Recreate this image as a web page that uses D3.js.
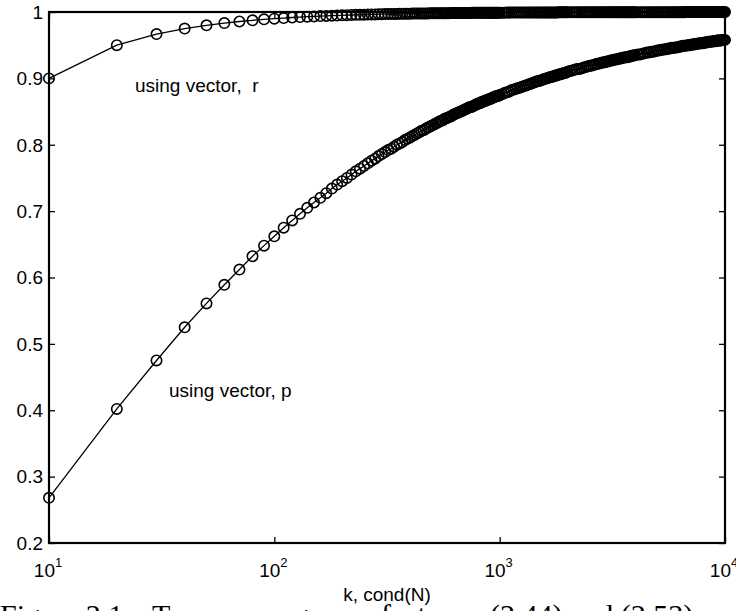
<!DOCTYPE html>
<html>
<head>
<meta charset="utf-8">
<script src="https://cdn.jsdelivr.net/npm/d3@7"></script>
<style>
  html, body { margin: 0; padding: 0; background: #fff; overflow: hidden; }
  svg { display: block; }
  .lbl { font-family: "Liberation Sans", Arial, Helvetica, sans-serif; fill: #000; }
  .cap { font-family: "Liberation Serif", "Times New Roman", serif; fill: #000; }
</style>
</head>
<body>
<svg id="chart" width="736" height="611"></svg>
<script>
// condition number k (sampled densely where markers merge into a band)
const kValues = [
  10,20,30,40,50,60,70,80,90,100,
  110,120,130,140,150,160,170,180,190,200,
  210,220,230,240,250,260,270,280,290,300,
  310,320,330,340,350,360,370,380,390,400,
  410,420,430,440,450,460,470,480,490,500,
  510,520,530,540,550,560,570,580,590,600,
  610,620,630,640,650,660,670,680,690,700,
  710,720,730,740,750,760,770,780,790,800,
  810,820,830,840,850,860,870,880,890,900,
  910,920,930,940,950,960,970,980,990,1000,
  1025,1050,1075,1100,1125,1150,1175,1200,1225,1250,
  1275,1300,1325,1350,1375,1400,1425,1450,1475,1500,
  1525,1550,1575,1600,1625,1650,1675,1700,1725,1750,
  1775,1800,1825,1850,1875,1900,1925,1950,1975,2000,
  2050,2100,2150,2200,2250,2300,2350,2400,2450,2500,
  2550,2600,2650,2700,2750,2800,2850,2900,2950,3000,
  3050,3100,3150,3200,3250,3300,3350,3400,3450,3500,
  3550,3600,3650,3700,3750,3800,3850,3900,3950,4000,
  4100,4200,4300,4400,4500,4600,4700,4800,4900,5000,
  5100,5200,5300,5400,5500,5600,5700,5800,5900,6000,
  6100,6200,6300,6400,6500,6600,6700,6800,6900,7000,
  7100,7200,7300,7400,7500,7600,7700,7800,7900,8000,
  8100,8200,8300,8400,8500,8600,8700,8800,8900,9000,
  9100,9200,9300,9400,9500,9600,9700,9800,9900,10000
];

// factor obtained with vector p
const pValues = [
  0.268,0.402,0.475,0.525,0.561,0.589,0.612,0.632,0.648,0.662,
  0.675,0.686,0.696,0.705,0.713,0.720,0.727,0.734,0.740,0.745,
  0.750,0.755,0.760,0.764,0.768,0.772,0.776,0.779,0.783,0.786,
  0.789,0.792,0.794,0.797,0.800,0.802,0.804,0.807,0.809,0.811,
  0.813,0.815,0.817,0.819,0.821,0.822,0.824,0.826,0.827,0.829,
  0.830,0.832,0.833,0.835,0.836,0.837,0.839,0.840,0.841,0.842,
  0.843,0.845,0.846,0.847,0.848,0.849,0.850,0.851,0.852,0.853,
  0.854,0.855,0.856,0.857,0.857,0.858,0.859,0.860,0.861,0.862,
  0.862,0.863,0.864,0.865,0.865,0.866,0.867,0.867,0.868,0.869,
  0.869,0.870,0.871,0.871,0.872,0.873,0.873,0.874,0.874,0.875,
  0.876,0.878,0.879,0.880,0.882,0.883,0.884,0.885,0.886,0.887,
  0.888,0.889,0.890,0.891,0.892,0.893,0.894,0.895,0.896,0.896,
  0.897,0.898,0.899,0.900,0.900,0.901,0.902,0.902,0.903,0.904,
  0.904,0.905,0.906,0.906,0.907,0.907,0.908,0.908,0.909,0.910,
  0.911,0.912,0.913,0.914,0.914,0.915,0.916,0.917,0.918,0.919,
  0.919,0.920,0.921,0.922,0.922,0.923,0.924,0.924,0.925,0.925,
  0.926,0.927,0.927,0.928,0.928,0.929,0.929,0.930,0.930,0.931,
  0.931,0.932,0.932,0.932,0.933,0.933,0.934,0.934,0.935,0.935,
  0.936,0.936,0.937,0.938,0.939,0.939,0.940,0.940,0.941,0.942,
  0.942,0.943,0.943,0.944,0.944,0.945,0.945,0.946,0.946,0.946,
  0.947,0.947,0.948,0.948,0.949,0.949,0.949,0.950,0.950,0.950,
  0.951,0.951,0.951,0.952,0.952,0.952,0.953,0.953,0.953,0.953,
  0.954,0.954,0.954,0.955,0.955,0.955,0.955,0.956,0.956,0.956,
  0.956,0.957,0.957,0.957,0.957,0.957,0.958,0.958,0.958,0.958
];

// factor obtained with vector r
const rValues = [
  0.9,0.95,0.9667,0.975,0.98,0.9833,0.9857,0.9875,0.9889,0.99,
  0.9909,0.9917,0.9923,0.9929,0.9933,0.9938,0.9941,0.9944,0.9947,0.995,
  0.9952,0.9955,0.9957,0.9958,0.996,0.9962,0.9963,0.9964,0.9966,0.9967,
  0.9968,0.9969,0.997,0.9971,0.9971,0.9972,0.9973,0.9974,0.9974,0.9975,
  0.9976,0.9976,0.9977,0.9977,0.9978,0.9978,0.9979,0.9979,0.998,0.998,
  0.998,0.9981,0.9981,0.9981,0.9982,0.9982,0.9982,0.9983,0.9983,0.9983,
  0.9984,0.9984,0.9984,0.9984,0.9985,0.9985,0.9985,0.9985,0.9986,0.9986,
  0.9986,0.9986,0.9986,0.9986,0.9987,0.9987,0.9987,0.9987,0.9987,0.9988,
  0.9988,0.9988,0.9988,0.9988,0.9988,0.9988,0.9989,0.9989,0.9989,0.9989,
  0.9989,0.9989,0.9989,0.9989,0.9989,0.999,0.999,0.999,0.999,0.999,
  0.999,0.999,0.9991,0.9991,0.9991,0.9991,0.9991,0.9992,0.9992,0.9992,
  0.9992,0.9992,0.9992,0.9993,0.9993,0.9993,0.9993,0.9993,0.9993,0.9993,
  0.9993,0.9994,0.9994,0.9994,0.9994,0.9994,0.9994,0.9994,0.9994,0.9994,
  0.9994,0.9994,0.9995,0.9995,0.9995,0.9995,0.9995,0.9995,0.9995,0.9995,
  0.9995,0.9995,0.9995,0.9995,0.9996,0.9996,0.9996,0.9996,0.9996,0.9996,
  0.9996,0.9996,0.9996,0.9996,0.9996,0.9996,0.9996,0.9997,0.9997,0.9997,
  0.9997,0.9997,0.9997,0.9997,0.9997,0.9997,0.9997,0.9997,0.9997,0.9997,
  0.9997,0.9997,0.9997,0.9997,0.9997,0.9997,0.9997,0.9997,0.9997,0.9998,
  0.9998,0.9998,0.9998,0.9998,0.9998,0.9998,0.9998,0.9998,0.9998,0.9998,
  0.9998,0.9998,0.9998,0.9998,0.9998,0.9998,0.9998,0.9998,0.9998,0.9998,
  0.9998,0.9998,0.9998,0.9998,0.9998,0.9998,0.9999,0.9999,0.9999,0.9999,
  0.9999,0.9999,0.9999,0.9999,0.9999,0.9999,0.9999,0.9999,0.9999,0.9999,
  0.9999,0.9999,0.9999,0.9999,0.9999,0.9999,0.9999,0.9999,0.9999,0.9999,
  0.9999,0.9999,0.9999,0.9999,0.9999,0.9999,0.9999,0.9999,0.9999,0.9999
];

const xTickValues = [10, 100, 1000, 10000];
const xTickExponents = ["1", "2", "3", "4"];
const yTickValues = [0.2, 0.3, 0.4, 0.5, 0.6, 0.7, 0.8, 0.9, 1];
const yTickLabels = ["0.2", "0.3", "0.4", "0.5", "0.6", "0.7", "0.8", "0.9", "1"];
const seriesNames = ["using vector, r", "using vector, p"];
const xAxisTitle = "k, cond(N)";
const captionWords = ["Figure 2.1:", "Two convergence", "factors", "(2.44) and (2.53)"];

const svg = d3.select("#chart");
const plot = { left: 49, top: 12, right: 725, bottom: 543 };

const x = d3.scaleLog().domain([10, 10000]).range([plot.left, plot.right]);
const y = d3.scaleLinear().domain([0.2, 1]).range([plot.bottom, plot.top]);

const tickLen = 6;

// inward ticks on all four sides
function styleAxis(g) {
  g.select(".domain").remove();
  g.selectAll(".tick line").attr("stroke", "#000").attr("stroke-width", 1.3);
  g.selectAll(".tick text").remove();
}
svg.append("g").attr("transform", `translate(0,${plot.bottom})`)
  .call(d3.axisBottom(x).tickValues(xTickValues).tickSize(-tickLen).tickSizeOuter(0)).call(styleAxis);
svg.append("g").attr("transform", `translate(0,${plot.top})`)
  .call(d3.axisTop(x).tickValues(xTickValues).tickSize(-tickLen).tickSizeOuter(0)).call(styleAxis);
svg.append("g").attr("transform", `translate(${plot.left},0)`)
  .call(d3.axisLeft(y).tickValues(yTickValues).tickSize(-tickLen).tickSizeOuter(0)).call(styleAxis);
svg.append("g").attr("transform", `translate(${plot.right},0)`)
  .call(d3.axisRight(y).tickValues(yTickValues).tickSize(-tickLen).tickSizeOuter(0)).call(styleAxis);

// axes box
svg.append("rect")
  .attr("x", plot.left).attr("y", plot.top)
  .attr("width", plot.right - plot.left).attr("height", plot.bottom - plot.top)
  .attr("fill", "none").attr("stroke", "#000").attr("stroke-width", 2.2);

// y tick labels
svg.append("g").selectAll("text").data(yTickValues).join("text")
  .attr("class", "lbl")
  .attr("x", plot.left - 6)
  .attr("y", d => y(d))
  .attr("dy", "0.36em")
  .attr("text-anchor", "end")
  .attr("font-size", 19)
  .text((d, i) => yTickLabels[i]);

// x tick labels: 10 with exponent
const xl = svg.append("g").selectAll("text").data(xTickValues).join("text")
  .attr("class", "lbl")
  .attr("x", d => x(d) - 1)
  .attr("y", plot.bottom + 34)
  .attr("text-anchor", "middle")
  .attr("font-size", 19);
xl.append("tspan").text("10");
xl.append("tspan").attr("dy", -10).attr("font-size", 13).text((d, i) => xTickExponents[i]);

// series
const seriesData = [
  kValues.map((k, i) => [k, rValues[i]]),
  kValues.map((k, i) => [k, pValues[i]])
];
const line = d3.line().x(d => x(d[0])).y(d => y(d[1]));

seriesData.forEach(data => {
  svg.append("path").datum(data)
    .attr("d", line)
    .attr("fill", "none")
    .attr("stroke", "#000")
    .attr("stroke-width", 1.3);
  svg.append("g").selectAll("circle").data(data).join("circle")
    .attr("cx", d => x(d[0]))
    .attr("cy", d => y(d[1]))
    .attr("r", 5.2)
    .attr("fill", "none")
    .attr("stroke", "#000")
    .attr("stroke-width", 1.6);
});

// series annotations
svg.append("text").attr("class", "lbl")
  .attr("x", 135).attr("y", 92).attr("font-size", 19)
  .attr("xml:space", "preserve")
  .text(seriesNames[0].replace(", ", ",  "));
svg.append("text").attr("class", "lbl")
  .attr("x", 169).attr("y", 397).attr("font-size", 19)
  .text(seriesNames[1]);

// x axis title
svg.append("text").attr("class", "lbl")
  .attr("x", (plot.left + plot.right) / 2)
  .attr("y", 601)
  .attr("text-anchor", "middle")
  .attr("font-size", 19)
  .text(xAxisTitle);

// figure caption below the axes
const cap = svg.append("text").attr("class", "cap")
  .attr("y", 625).attr("font-size", 30);
const capX = [0, 152, 381, 490];
captionWords.forEach((w, i) => cap.append("tspan").attr("x", capX[i]).text(w));
</script>
</body>
</html>
